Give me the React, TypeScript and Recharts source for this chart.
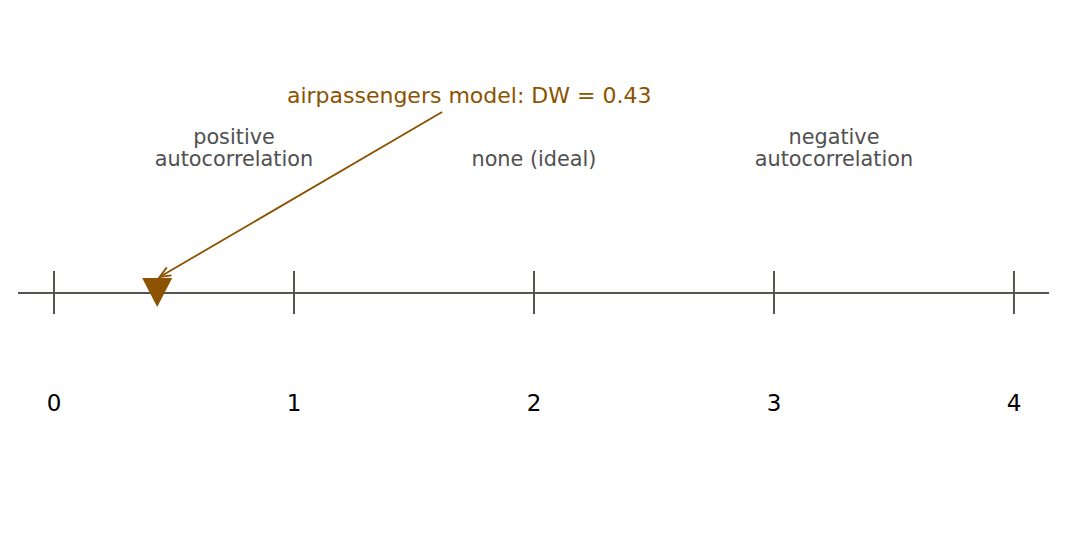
import { ComposedChart, XAxis, YAxis, Scatter, ReferenceLine } from "recharts";

const BROWN = "#8b5200";
const GREY = "#555550";
const TEXT_GREY = "#505050";
const FONT = "'DejaVu Sans', sans-serif";

// Durbin-Watson scale
const scaleTicks = [0, 1, 2, 3, 4];
const regionBounds = [0, 1.5, 2.5, 4];
const regionLabels = [["positive", "autocorrelation"], ["none (ideal)"], ["negative", "autocorrelation"]];
const modelName = "airpassengers";
const dwValue = 0.43;

// layout in data units (y = 0 is the scale line)
const TEXT_Y = 1.9;
const LABEL_Y = 1.27;
const TICK_LABEL_Y = -1.18;

const tickData = scaleTicks.map((t) => ({ x: t, y: TICK_LABEL_Y }));
const regionData = regionLabels.map((lines, i) => ({
  x: (regionBounds[i] + regionBounds[i + 1]) / 2,
  y: LABEL_Y,
  lines,
}));
const markerData = [{ x: dwValue, y: 0 }];
const annoData = [{ x: 1.73, y: TEXT_Y, label: `${modelName} model: DW = ${dwValue}` }];

const Triangle = (p: any) => (
  <polygon
    points={`${p.cx - 15},${p.cy - 15} ${p.cx + 15},${p.cy - 15} ${p.cx},${p.cy + 14}`}
    fill={BROWN}
  />
);

const TickText = (p: any) => (
  <text x={p.cx} y={p.cy} textAnchor="middle" fontSize={23} fontFamily={FONT} fill="#000">
    {p.payload.x}
  </text>
);

const RegionText = (p: any) => {
  const lines: string[] = p.payload.lines;
  const start = lines.length > 1 ? -22.5 : 0;
  return (
    <text x={p.cx} y={p.cy} textAnchor="middle" fontSize={20.8} fontFamily={FONT} fill={TEXT_GREY}>
      {lines.map((l, i) => (
        <tspan key={i} x={p.cx} dy={i === 0 ? start : 22.5}>
          {l}
        </tspan>
      ))}
    </text>
  );
};

const AnnoText = (p: any) => (
  <text x={p.cx} y={p.cy} textAnchor="middle" fontSize={22} fontFamily={FONT} fill={BROWN}>
    {p.payload.label}
  </text>
);

const Arrow = (p: any) => {
  const { x1, y1, x2, y2 } = p;
  const a = Math.atan2(y2 - y1, x2 - x1);
  const len = 12;
  const spread = 0.4;
  const h1x = x2 - len * Math.cos(a - spread);
  const h1y = y2 - len * Math.sin(a - spread);
  const h2x = x2 - len * Math.cos(a + spread);
  const h2y = y2 - len * Math.sin(a + spread);
  return (
    <g stroke={BROWN} strokeWidth={1.8} fill="none">
      <line x1={x1} y1={y1} x2={x2} y2={y2} />
      <polyline points={`${h1x},${h1y} ${x2},${y2} ${h2x},${h2y}`} />
    </g>
  );
};

export default function App() {
  return (
    <div style={{ position: "absolute", left: 0, top: 0, background: "#fff", fontFamily: FONT }}>
      <ComposedChart width={1068} height={543} margin={{ top: 0, right: 19, bottom: 0, left: 18 }}>
        <XAxis type="number" dataKey="x" domain={[-0.15, 4.146]} hide />
        <YAxis type="number" dataKey="y" domain={[-2.5, 2.93]} hide />
        <ReferenceLine y={0} stroke={GREY} strokeWidth={2.2} />
        {scaleTicks.map((t) => (
          <ReferenceLine
            key={t}
            segment={[{ x: t, y: -0.21 }, { x: t, y: 0.22 }]}
            stroke={GREY}
            strokeWidth={2}
          />
        ))}
        <Scatter data={tickData} shape={TickText} isAnimationActive={false} />
        <Scatter data={regionData} shape={RegionText} isAnimationActive={false} />
        <Scatter data={annoData} shape={AnnoText} isAnimationActive={false} />
        <ReferenceLine
          segment={[{ x: 1.617, y: 1.81 }, { x: 0.44, y: 0.16 }]}
          shape={Arrow}
        />
        <Scatter data={markerData} shape={Triangle} isAnimationActive={false} />
      </ComposedChart>
    </div>
  );
}
